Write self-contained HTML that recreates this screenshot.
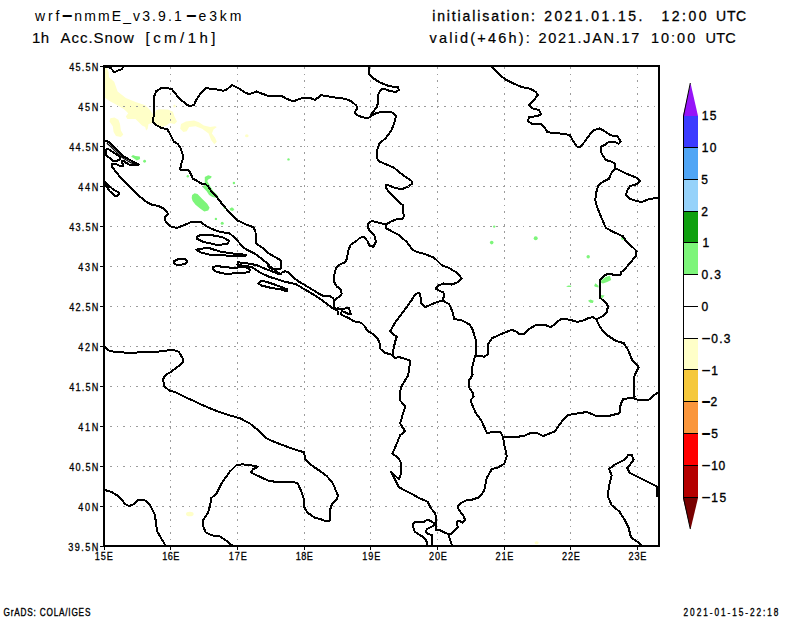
<!DOCTYPE html><html><head><meta charset="utf-8"><style>html,body{margin:0;padding:0;background:#fff;width:800px;height:618px;overflow:hidden}svg{display:block}text{font-family:"Liberation Sans",sans-serif;fill:#000}</style></head><body>
<svg width="800" height="618" viewBox="0 0 800 618">
<polygon points="104.0,67.0 106.2,67.0 107.5,69.8 108.6,72.0 109.0,77.2 114.2,81.8 117.6,91.4 125.8,97.9 135.5,102.0 145.2,105.2 150.1,110.0 153.4,115.0 156.6,110.0 159.9,109.2 168.0,109.6 172.9,111.7 174.5,116.6 177.0,121.4 174.5,123.9 169.6,123.1 166.4,125.5 161.5,127.1 156.6,126.3 152.6,123.1 148.5,123.9 147.7,128.8 146.1,130.4 145.2,127.1 142.0,125.5 138.8,122.2 135.5,119.0 127.4,119.0 125.8,116.6 128.2,113.3 124.1,109.2 116.0,104.4 109.5,101.1 105.4,97.9 104.0,97.0" fill="#FFFFC8"/>
<polygon points="110.3,118.2 114.4,117.4 118.4,119.8 120.0,123.9 120.9,130.4 123.3,134.4 120.9,136.9 116.0,136.0 113.6,132.0 112.8,126.3 109.5,121.4" fill="#FFFFC8"/>
<polygon points="181.0,123.9 185.9,121.4 194.0,120.6 198.9,122.2 203.8,125.5 210.2,127.1 215.1,126.3 216.8,127.1 213.5,129.6 211.9,133.6 215.1,137.7 216.8,141.8 214.3,144.2 211.1,140.1 208.6,133.6 202.1,128.8 195.6,126.3 189.1,127.1 186.7,131.2 183.4,132.0 180.2,128.8" fill="#FFFFC8"/>
<ellipse cx="174.5" cy="106" rx="1.2" ry="1.5" fill="#FFFFC8"/>
<ellipse cx="246.8" cy="135.7" rx="1.8" ry="1.5" fill="#FFFFC8"/>
<ellipse cx="189.8" cy="514" rx="3.8" ry="2.3" fill="#FFFFC8"/>
<ellipse cx="536.6" cy="542.7" rx="2" ry="1.5" fill="#FFFFC8"/>
<polygon points="192.1,195.1 194.6,193.2 197.5,194.1 202.3,199.0 207.2,203.8 209.6,207.7 208.2,210.6 204.3,211.4 200.4,208.7 195.5,204.8 192.6,200.9 191.7,198.0" fill="#7DF57A"/>
<polygon points="204.8,177.1 208.2,175.2 211.6,176.2 211.1,178.1 208.2,179.6 207.2,181.0 208.6,183.4 213.0,190.7 216.9,194.6 219.3,198.5 216.9,198.0 212.5,197.0 209.1,195.1 206.7,191.2 203.3,187.8 202.3,186.8 204.8,184.4 204.8,180.5" fill="#7DF57A"/>
<polygon points="229.5,208.7 232.0,207.2 234.4,209.2 232.9,211.1 230.5,210.6" fill="#7DF57A"/>
<polygon points="131.1,156.4 133.0,155.1 135.3,156.0 139.8,156.4 140.1,159.0 136.8,160.5 133.8,158.2" fill="#7DF57A"/>
<polygon points="601.1,280.6 605.5,277.1 609.9,275.7 611.2,280.1 607.2,281.9 602.9,283.6 601.1,282.7" fill="#7DF57A"/>
<polygon points="594.1,285.8 595.4,283.2 598.5,285.8 598.5,287.6 595.0,286.7" fill="#7DF57A"/>
<polygon points="566.1,286.2 568.7,285.4 571.4,285.8 570.9,287.1 567.9,287.1" fill="#7DF57A"/>
<polygon points="588.0,300.7 590.6,299.4 593.7,300.7 592.8,302.9 590.2,302.7" fill="#7DF57A"/>
<polygon points="601.1,295.0 604.6,295.4 602.9,297.6 601.1,300.7" fill="#7DF57A"/>
<circle cx="144.6" cy="161.25" r="1.4" fill="#7DF57A"/>
<circle cx="187.8" cy="176.2" r="1.2" fill="#7DF57A"/>
<circle cx="233.9" cy="183" r="1.2" fill="#7DF57A"/>
<circle cx="215.9" cy="218.9" r="1.2" fill="#7DF57A"/>
<circle cx="222.2" cy="223.3" r="1.5" fill="#7DF57A"/>
<circle cx="224.7" cy="207.7" r="1.2" fill="#7DF57A"/>
<circle cx="288.5" cy="159.4" r="1.2" fill="#7DF57A"/>
<circle cx="494.2" cy="226.6" r="1.2" fill="#7DF57A"/>
<circle cx="491.7" cy="242.6" r="1.8" fill="#7DF57A"/>
<circle cx="535.7" cy="238.3" r="2" fill="#7DF57A"/>
<circle cx="588.2" cy="256.8" r="1.7" fill="#7DF57A"/>
<circle cx="622.8" cy="238.3" r="1.7" fill="#7DF57A"/>
<path d="M170.5,67V545M237.5,67V545M304.5,67V545M370.5,67V545M437.5,67V545M504.5,67V545M570.5,67V545M637.5,67V545M103.45,106.5H658M103.45,146.5H658M103.45,186.5H658M103.45,226.5H658M103.45,266.5H658M103.45,306.5H658M103.45,346.5H658M103.45,386.5H658M103.45,426.5H658M103.45,466.5H658M103.45,506.5H658" stroke="#9C9C9C" stroke-width="1" stroke-dasharray="1.8 4.75" fill="none" shape-rendering="crispEdges"/>
<g fill="none" stroke="#000" stroke-width="2" stroke-linejoin="round" stroke-linecap="round" shape-rendering="crispEdges">
<polyline points="104.0,67.1 108.2,67.1 110.9,68.2 114.6,72.4 118.0,70.5 121.4,69.4 122.9,67.5 123.3,66.0"/>
<polyline points="267.8,263.4 268.4,266.5 272.1,269.2 276.3,269.2 280.5,268.6 281.5,266.5 280.5,260.2 275.2,257.1 267.8,252.9 263.6,248.7 258.4,245.0 255.8,242.4 255.5,232.1 253.6,227.3 245.8,224.4 240.0,221.5 238.3,221.3 234.4,217.4 230.5,213.5 226.6,209.2 222.7,204.8 218.8,199.5 215.0,195.1 211.1,190.7 208.2,186.4 205.2,183.9 200.4,183.4 196.5,180.5 192.6,178.6 191.7,175.7 189.7,171.8 187.8,169.5 180.0,169.5 181.6,162.9 183.5,157.1 180.6,148.3 177.7,143.9 173.8,141.6 169.9,133.8 167.0,128.9 162.1,128.3 156.3,125.0 152.8,121.7 153.4,118.3 154.4,110.5 154.4,95.9 156.3,91.1 161.2,88.2 168.0,88.2 171.8,89.1 179.6,98.8 187.4,105.0 190.3,106.2 194.2,104.7 196.1,99.8 201.0,93.0 205.8,88.2 214.6,89.1 223.3,90.7 226.2,90.1 232.0,84.9 240.0,89.1 243.9,92.0 248.7,94.0 252.6,93.0 256.5,91.5 261.4,93.4 269.1,96.3 281.7,95.9 286.6,98.8 293.4,101.4 298.3,99.4 304.1,97.5 309.9,97.9 314.8,99.8 317.7,97.9 320.6,95.0 325.4,95.9 337.1,97.9 345.8,98.8 351.7,101.7 356.5,105.6 356.5,109.5 354.6,112.4 357.5,115.3 362.3,117.3 368.2,117.9 370.7,116.3"/>
<polyline points="369.7,66.0 368.7,73.6 373.6,78.4 379.4,82.3 389.1,86.2 397.9,87.2 398.8,90.1 395.9,92.0 390.1,91.1 385.2,89.1 381.4,89.1 378.4,94.0 377.5,98.8 378.4,101.7 376.5,107.6 372.6,112.4 370.7,116.3"/>
<polyline points="370.7,116.3 375.5,113.4 382.3,111.5 392.0,112.4 395.9,116.3 394.0,124.1 391.1,130.9 385.2,138.6 379.4,143.5 377.5,149.3 376.5,156.1 378.4,161.0 385.2,163.9 394.0,167.8 402.7,174.9 411.5,180.7 412.4,183.6 408.5,186.5 402.7,188.8 395.9,188.4 389.1,185.5 386.2,184.6 386.2,188.4 391.1,194.3 397.9,201.1 402.7,205.0 403.7,216.6 401.7,219.5 397.9,218.9 391.1,221.5 386.2,224.4"/>
<polyline points="386.2,224.4 381.4,223.4 371.7,220.9 367.5,224.0 368.7,229.5 374.3,235.0 375.9,241.5 373.6,246.7 369.5,246.0 367.5,241.0 364.0,237.2 360.0,237.6 356.5,240.9 350.7,244.8 347.8,251.6 347.3,258.3 345.0,262.4 339.5,264.6 336.0,268.2 334.4,274.7 333.9,281.3 336.6,286.4 340.9,289.3 341.7,293.7 339.5,296.6 335.9,298.8 334.4,300.2"/>
<polyline points="386.2,224.4 386.2,228.3 398.8,235.0 406.6,241.8 412.4,249.6 416.3,251.6 424.1,253.9 433.8,257.4 441.6,265.1 449.3,268.1 457.1,272.9 461.9,278.7 457.1,282.6 451.3,284.6 443.5,283.5 437.7,285.8 435.7,288.7 439.6,290.7 443.5,292.6 443.5,297.5 442.5,300.4"/>
<polyline points="442.5,300.4 433.8,303.3 425.0,307.2 421.2,303.3 420.2,294.6 418.3,292.6 414.4,295.5 411.5,300.4 406.6,307.2 400.8,315.0 395.0,322.7 390.1,331.5 393.0,334.4 396.9,336.3 395.0,342.1 393.4,349.9 393.0,355.7"/>
<polyline points="442.5,300.4 449.3,304.3 452.2,311.1 454.2,318.8 462.9,320.8 469.7,324.7 472.6,329.5 475.5,339.2 476.5,348.0 475.5,354.8 473.6,361.6 471.7,369.3 472.6,375.1 468.7,381.0 468.7,386.8 472.6,392.6 473.6,396.5 470.5,400.4 475.2,412.0 481.6,421.1 486.8,432.7 500.3,431.9 502.9,436.6"/>
<polyline points="502.9,436.6 513.3,437.1 523.6,436.1 531.4,432.7 537.9,433.5 543.0,436.1 554.7,431.4 561.2,422.3 567.6,415.1 578.0,413.3 587.0,412.0 596.1,415.9 609.0,415.9 619.4,413.3 620.7,404.2 623.2,399.1 632.3,397.8 637.5,399.8 649.1,399.6 655.6,393.9 658.2,392.6"/>
<polyline points="502.9,436.6 504.2,444.3 506.8,456.0 504.2,463.7 497.8,467.6 492.0,468.9 486.8,478.0 484.2,490.9 479.0,497.4 470.0,500.3 466.4,500.3 461.9,502.6 458.4,505.2 457.9,507.5 459.3,510.6 461.9,513.7 463.7,516.4 465.1,519.9 462.8,522.6 459.3,520.8 457.5,521.2 457.0,524.4 457.9,527.5 454.8,530.6 451.3,534.1 448.6,534.1"/>
<polyline points="476.0,355.5 484.3,356.7 488.2,353.8 488.2,344.1 492.0,338.3 498.5,335.2 511.2,329.9 515.5,331.0 519.7,334.2 524.0,334.2 529.3,328.9 535.7,325.0 545.2,325.0 550.6,327.2 553.7,325.0 561.2,318.7 569.7,319.7 577.1,321.9 583.5,320.4 588.8,317.8 593.1,317.2 596.2,319.3"/>
<polyline points="615.4,168.3 612.2,171.4 609.0,178.8 602.6,182.0 598.4,185.2 596.2,192.6 595.2,200.1 597.3,207.5 601.6,218.1 605.8,227.7 613.2,231.9 622.8,236.2 627.1,242.6 633.4,247.9 636.6,251.1 635.6,256.4 630.2,262.7 623.9,270.2 621.2,272.2 620.4,274.9 612.5,274.9 611.6,273.6 609.0,273.6 605.5,274.9 602.9,277.1 599.8,280.1 599.8,297.6 602.9,300.2 607.2,304.6 607.9,306.6 606.9,311.9 602.6,316.1 596.2,319.3"/>
<polyline points="596.2,319.3 600.5,327.8 605.8,334.2 615.4,340.6 623.9,343.3 628.1,350.1 632.4,360.7 635.6,363.9 638.7,367.1 636.6,371.4 634.5,375.6 634.1,386.2 634.5,395.8 634.9,396.5 632.3,397.8"/>
<polyline points="491.0,66.0 498.5,73.8 504.9,79.1 513.4,83.4 521.9,87.2 530.4,88.7 535.7,91.9 537.8,95.1 533.6,100.4 529.3,105.0 532.5,108.4 538.9,109.9 541.0,114.2 536.7,116.3 529.3,117.0 527.8,120.6 531.4,123.7 541.0,124.2 544.2,126.9 547.4,132.2 558.0,133.3 569.7,134.8 572.9,140.7 577.1,146.7 580.3,147.1 584.6,141.8 589.9,134.4 594.1,130.1 599.4,128.4 604.7,131.2 611.1,135.4 617.5,136.1 620.7,141.8 618.6,143.9 614.3,141.8 609.0,141.8 604.7,145.0 600.5,147.1 601.6,153.5 605.8,159.9 612.2,162.0 615.4,164.1 615.4,168.3"/>
<polyline points="615.4,168.3 626.0,173.6 636.6,177.7 639.8,180.9 636.6,184.1 630.2,186.2 627.1,190.5 626.0,194.7 630.2,199.0 638.7,201.5 643.0,201.5 649.4,199.0 658.0,197.9"/>
<polyline points="657.2,487.0 657.2,496.0"/>
<polyline points="658.0,487.0 650.4,483.1 640.1,478.0 629.7,472.8 627.1,467.6 629.7,465.0 633.6,459.9 631.8,454.7 628.4,454.7 624.5,459.9 614.2,465.0 609.0,468.9 611.6,475.4 609.0,485.7 607.7,496.1 611.6,505.1 619.4,511.6 624.5,519.4 628.4,527.1 631.0,537.5 638.8,542.7 641.4,545.5"/>
<polyline points="104.0,140.1 107.2,141.2 109.1,142.3 111.0,144.3 114.3,147.6 117.6,150.9 120.9,154.2 124.2,156.9 127.5,158.6 130.8,160.5 134.1,162.4 137.4,163.8 138.5,164.6 138.0,165.4 130.8,165.4 126.4,163.0 123.7,160.8 122.3,160.8 121.7,162.4 123.1,164.6 123.1,166.3 119.8,166.0 117.6,164.6 114.3,163.8 112.1,164.1 111.6,166.0 112.7,167.6 114.3,169.6 116.0,171.9 118.4,174.9 120.9,178.3 124.3,181.7 129.6,187.0 135.9,193.3 146.6,202.0 151.5,204.6 158.3,205.9 164.1,208.8 168.0,213.7 165.0,216.6 165.0,220.5 169.9,226.3 176.7,227.9 183.5,225.3 191.3,222.0 201.0,222.0 204.9,225.3 212.6,229.2 220.4,232.1 229.1,233.1 234.0,237.0 240.0,243.6 241.6,246.0 245.8,249.2 255.2,253.9 261.5,258.7 266.8,262.9 270.0,266.5 274.2,269.7 278.4,272.9 280.5,274.4 281.5,272.9 284.7,271.3 287.8,271.8 293.1,277.1 298.3,281.3 303.6,284.4 311.8,289.3 319.1,293.7 323.5,295.9 329.3,295.9 332.9,298.0 334.4,300.2 333.7,302.4 334.4,307.5 336.6,309.7 338.0,311.9 338.0,314.0"/>
<polyline points="237.9,262.3 245.8,263.2 256.3,265.0 264.7,268.6 272.0,271.3 278.4,273.9"/>
<polyline points="237.9,262.3 237.4,264.4 238.4,265.0 248.9,266.5 251.0,266.5 254.2,268.6 261.5,273.4 270.0,277.1 277.3,279.2 284.7,281.8 290.0,282.8 295.8,284.2 304.6,289.3 313.3,294.4 322.0,300.2 328.6,305.3 333.7,309.0 336.6,310.4 338.0,308.2 339.5,309.0 349.0,308.2 349.7,311.1 351.1,314.0 348.2,314.0 344.6,311.9 341.7,311.1 341.0,314.0 343.9,316.2 348.2,317.7 354.0,321.3 361.3,322.8 364.2,325.7 367.5,330.8 374.0,334.8 377.8,339.0 379.4,342.1 380.4,348.9 385.2,352.8 392.0,354.8 395.0,357.7 399.8,357.3 409.5,360.2 409.5,366.4 408.2,375.1 404.7,381.0 401.7,385.8 399.8,392.6 400.1,400.4 405.3,406.8 402.7,414.6 400.1,423.6 405.3,431.4 400.1,435.3 397.5,441.8 394.9,448.2 392.3,453.4 398.8,458.6 401.4,463.8 401.4,472.8 398.8,479.3 393.6,474.1 391.1,471.5 394.9,479.3 398.8,487.0 406.6,491.4 413.9,495.0 420.1,498.6 427.7,501.7 429.0,504.8 431.7,509.2 434.8,512.8 435.7,515.5 435.7,521.7 435.7,530.1 439.7,530.1 444.1,532.4 448.6,534.1 449.5,537.7 451.3,543.0 452.2,546.0"/>
<polyline points="427.2,546.0 427.2,543.5 425.9,539.5 422.8,536.8 418.3,534.1 414.8,531.5 413.5,527.9 413.0,524.4 415.7,521.7 421.9,521.7 424.1,521.7 427.2,519.9 430.8,520.8 434.4,523.5 433.5,525.7 429.9,527.5 426.8,529.3 425.9,531.5 427.2,533.7 431.7,535.0 432.1,539.5 432.1,546.0"/>
<polyline points="104.0,346.3 109.7,351.2 119.4,352.1 131.1,353.1 144.7,351.7 151.5,352.5 164.1,350.8 172.8,349.8 178.6,351.7 182.5,358.0 182.5,362.8 177.7,366.7 169.9,372.5 165.0,375.4 163.1,379.3 164.1,386.1 169.9,391.0 174.8,391.9 183.5,396.4 193.2,400.7 201.9,404.9 216.5,410.9 228.6,415.0 239.7,418.2 249.4,423.1 256.7,429.1 265.2,437.6 273.7,441.7 283.4,445.4 295.5,449.7 304.0,452.2 305.2,459.5 310.1,464.3 319.8,470.9 327.1,476.4 333.1,483.7 338.0,495.9 336.8,499.5 331.9,504.3 329.5,511.6 329.5,521.3 325.9,521.3 319.8,518.9 314.9,517.7 307.7,512.8 304.0,506.8 304.0,499.5 301.6,492.2 297.9,483.7 293.1,481.8 278.5,481.8 270.0,481.3 261.5,477.6 251.8,472.8 250.6,472.3 253.1,469.2 257.9,466.7 249.4,465.0 242.1,464.3 236.1,465.5 229.8,471.6 223.8,480.1 220.1,486.1 216.5,493.4 211.1,498.3 210.4,504.3 208.0,512.8 203.1,520.1 203.1,526.2 205.6,532.2 211.6,535.4 218.9,535.9 226.2,540.7 232.2,545.5"/>
<polyline points="104.0,489.8 110.9,491.7 118.2,495.9 125.5,504.3 129.1,506.0 132.8,504.8 138.8,499.5 143.7,499.5 149.7,504.3 154.6,514.0 155.8,521.3 157.0,531.0 161.9,539.5 165.5,545.5"/>
<polygon points="106.0,149.8 107.7,148.7 111.0,150.9 114.3,153.1 117.6,155.3 119.8,156.9 120.6,158.0 119.8,159.7 116.5,160.8 113.8,161.3 111.6,159.7 108.3,156.9 106.0,154.7 105.5,152.5"/>
<polygon points="104.5,181.0 109.2,186.0 112.6,188.9 115.5,190.9 118.0,192.1 119.4,193.8 118.4,195.2 116.0,196.0 115.0,195.7 112.1,193.1 109.7,191.4 108.3,189.4 107.5,187.5 106.3,186.0 104.5,184.6"/>
<polygon points="197.1,237.0 200.0,235.0 208.7,234.7 222.3,237.0 229.1,240.9 227.2,244.2 216.5,244.8 202.9,241.8 197.1,238.9"/>
<polygon points="196.1,249.6 207.8,247.7 220.4,251.6 235.9,254.0 245.8,254.7 245.2,256.4 230.0,256.3 226.2,255.5 212.6,255.4 201.0,252.5"/>
<polygon points="173.8,261.3 177.7,259.3 185.4,259.3 187.4,261.3 184.5,264.2 177.7,265.1 174.8,264.2"/>
<polygon points="212.6,267.1 216.5,266.1 226.2,267.1 233.2,268.1 240.5,267.1 247.9,267.6 250.0,269.7 248.9,272.3 240.5,272.9 233.2,273.4 226.2,273.9 216.5,271.9 213.6,270.0"/>
<polygon points="258.4,283.4 260.5,281.3 264.7,281.3 274.2,284.4 282.6,287.6 287.3,289.2 286.8,291.3 280.5,289.2 272.0,288.1 261.5,285.5"/>
</g>
<g fill="none" stroke="#000" stroke-width="1.3" stroke-linejoin="round" stroke-linecap="round">
<polyline points="107.2,143.6 111.0,146.8 114.3,150.1 117.6,153.4 120.9,156.4 124.2,158.8 127.5,160.8 130.8,162.6 135.2,164.3"/>
</g>
<rect x="104" y="66" width="555" height="480" fill="none" stroke="#000" stroke-width="2" shape-rendering="crispEdges"/>
<path d="M104.5,547V550M170.5,547V550M237.5,547V550M304.5,547V550M370.5,547V550M437.5,547V550M504.5,547V550M570.5,547V550M637.5,547V550M100,66.5H103M100,106.5H103M100,146.5H103M100,186.5H103M100,226.5H103M100,266.5H103M100,306.5H103M100,346.5H103M100,386.5H103M100,426.5H103M100,466.5H103M100,506.5H103M100,546.5H103" stroke="#000" stroke-width="1" fill="none" shape-rendering="crispEdges"/>
<polygon points="683,116 690.5,83 698,116" fill="#9614F8"/>
<rect x="683" y="116" width="15" height="31" fill="#3C3CFF" shape-rendering="crispEdges"/>
<rect x="683" y="147" width="15" height="32" fill="#50A5F5" shape-rendering="crispEdges"/>
<rect x="683" y="179" width="15" height="32" fill="#96D2FA" shape-rendering="crispEdges"/>
<rect x="683" y="211" width="15" height="31" fill="#0FA00F" shape-rendering="crispEdges"/>
<rect x="683" y="242" width="15" height="32" fill="#7DF57A" shape-rendering="crispEdges"/>
<rect x="683" y="338" width="15" height="31" fill="#FFFFC8" shape-rendering="crispEdges"/>
<rect x="683" y="369" width="15" height="32" fill="#F5C83C" shape-rendering="crispEdges"/>
<rect x="683" y="401" width="15" height="32" fill="#FA963C" shape-rendering="crispEdges"/>
<rect x="683" y="433" width="15" height="32" fill="#FF0000" shape-rendering="crispEdges"/>
<rect x="683" y="465" width="15" height="32" fill="#B40000" shape-rendering="crispEdges"/>
<polygon points="683,498 690.5,529.5 698,498" fill="#780000"/>
<path d="M683.5,116L690.3,83M683.5,498L690.3,529" stroke="#000" stroke-width="1" fill="none"/>
<path d="M683.5,116V498M683,147.5H698M683,179.5H698M683,211.5H698M683,242.5H698M683,274.5H698M683,306.5H698M683,338.5H698M683,369.5H698M683,401.5H698M683,433.5H698M683,465.5H698M683,497.5H698" stroke="#000" stroke-width="1" fill="none" shape-rendering="crispEdges"/>
<text xml:space="preserve"><tspan x="35.02" y="21" font-size="14" textLength="24.26" lengthAdjust="spacing">wrf</tspan><tspan x="61.14" y="22.80" font-size="25.60" textLength="12.41" lengthAdjust="spacingAndGlyphs">-</tspan><tspan x="74.27" y="21" font-size="14" textLength="107.41" lengthAdjust="spacing">nmmE_v3.9.1</tspan><tspan x="185.36" y="22.80" font-size="25.60" textLength="12.28" lengthAdjust="spacingAndGlyphs">-</tspan><tspan x="198.41" y="21" font-size="14" textLength="43.02" lengthAdjust="spacing">e3km</tspan></text>
<text xml:space="preserve"><tspan x="32.06" y="43" font-size="15" stroke="#000" stroke-width="0.15" textLength="17.12" lengthAdjust="spacing">1h</tspan> <tspan x="60.57" y="43" font-size="15" stroke="#000" stroke-width="0.15" textLength="73.39" lengthAdjust="spacing">Acc.Snow</tspan> <tspan x="145.53" y="43" font-size="15" stroke="#000" stroke-width="0.15" textLength="69.94" lengthAdjust="spacing">[cm/1h]</tspan></text>
<text xml:space="preserve"><tspan x="432.21" y="21" font-size="14" stroke="#000" stroke-width="0.3" textLength="102.56" lengthAdjust="spacing">initialisation:</tspan> <tspan x="544.20" y="21" font-size="14" stroke="#000" stroke-width="0.3" textLength="98.18" lengthAdjust="spacing">2021.01.15.</tspan>  <tspan x="661.43" y="21" font-size="14" stroke="#000" stroke-width="0.3" textLength="45.11" lengthAdjust="spacing">12:00</tspan> <tspan x="716.12" y="21" font-size="14" stroke="#000" stroke-width="0.3" textLength="30.11" lengthAdjust="spacing">UTC</tspan></text>
<text xml:space="preserve"><tspan x="429.45" y="43" font-size="14.5" stroke="#000" stroke-width="0.2" textLength="100.37" lengthAdjust="spacing">valid(+46h):</tspan> <tspan x="538.52" y="43" font-size="14.5" stroke="#000" stroke-width="0.2" textLength="100.71" lengthAdjust="spacing">2021.JAN.17</tspan> <tspan x="650.90" y="43" font-size="14.5" stroke="#000" stroke-width="0.2" textLength="44.37" lengthAdjust="spacing">10:00</tspan> <tspan x="705.58" y="43" font-size="14.5" stroke="#000" stroke-width="0.2" textLength="30.17" lengthAdjust="spacing">UTC</tspan></text>
<text xml:space="preserve" transform="scale(0.8,1)"><tspan x="118.51" y="560" font-size="11.4" stroke="#000" stroke-width="0.3" textLength="22.61" lengthAdjust="spacing">15E</tspan></text>
<text xml:space="preserve" transform="scale(0.8,1)"><tspan x="202.88" y="560" font-size="11.4" stroke="#000" stroke-width="0.3" textLength="21.36" lengthAdjust="spacing">16E</tspan></text>
<text xml:space="preserve" transform="scale(0.8,1)"><tspan x="286.01" y="560" font-size="11.4" stroke="#000" stroke-width="0.3" textLength="22.61" lengthAdjust="spacing">17E</tspan></text>
<text xml:space="preserve" transform="scale(0.8,1)"><tspan x="369.76" y="560" font-size="11.4" stroke="#000" stroke-width="0.3" textLength="21.36" lengthAdjust="spacing">18E</tspan></text>
<text xml:space="preserve" transform="scale(0.8,1)"><tspan x="452.88" y="560" font-size="11.4" stroke="#000" stroke-width="0.3" textLength="22.61" lengthAdjust="spacing">19E</tspan></text>
<text xml:space="preserve" transform="scale(0.8,1)"><tspan x="536.30" y="560" font-size="11.4" stroke="#000" stroke-width="0.3" textLength="22.31" lengthAdjust="spacing">20E</tspan></text>
<text xml:space="preserve" transform="scale(0.8,1)"><tspan x="619.43" y="560" font-size="11.4" stroke="#000" stroke-width="0.3" textLength="22.31" lengthAdjust="spacing">21E</tspan></text>
<text xml:space="preserve" transform="scale(0.8,1)"><tspan x="702.55" y="560" font-size="11.4" stroke="#000" stroke-width="0.3" textLength="22.31" lengthAdjust="spacing">22E</tspan></text>
<text xml:space="preserve" transform="scale(0.8,1)"><tspan x="785.68" y="560" font-size="11.4" stroke="#000" stroke-width="0.3" textLength="22.31" lengthAdjust="spacing">23E</tspan></text>
<text xml:space="preserve" transform="scale(0.8,1)"><tspan x="86.61" y="70.6" font-size="11.4" stroke="#000" stroke-width="0.3" textLength="36.19" lengthAdjust="spacing">45.5N</tspan></text>
<text xml:space="preserve" transform="scale(0.8,1)"><tspan x="97.86" y="110.6" font-size="11.4" stroke="#000" stroke-width="0.3" textLength="24.94" lengthAdjust="spacing">45N</tspan></text>
<text xml:space="preserve" transform="scale(0.8,1)"><tspan x="86.61" y="150.6" font-size="11.4" stroke="#000" stroke-width="0.3" textLength="36.19" lengthAdjust="spacing">44.5N</tspan></text>
<text xml:space="preserve" transform="scale(0.8,1)"><tspan x="97.86" y="190.6" font-size="11.4" stroke="#000" stroke-width="0.3" textLength="24.94" lengthAdjust="spacing">44N</tspan></text>
<text xml:space="preserve" transform="scale(0.8,1)"><tspan x="86.61" y="230.6" font-size="11.4" stroke="#000" stroke-width="0.3" textLength="36.19" lengthAdjust="spacing">43.5N</tspan></text>
<text xml:space="preserve" transform="scale(0.8,1)"><tspan x="97.86" y="270.6" font-size="11.4" stroke="#000" stroke-width="0.3" textLength="24.94" lengthAdjust="spacing">43N</tspan></text>
<text xml:space="preserve" transform="scale(0.8,1)"><tspan x="86.61" y="310.6" font-size="11.4" stroke="#000" stroke-width="0.3" textLength="36.19" lengthAdjust="spacing">42.5N</tspan></text>
<text xml:space="preserve" transform="scale(0.8,1)"><tspan x="97.86" y="350.6" font-size="11.4" stroke="#000" stroke-width="0.3" textLength="24.94" lengthAdjust="spacing">42N</tspan></text>
<text xml:space="preserve" transform="scale(0.8,1)"><tspan x="86.61" y="390.6" font-size="11.4" stroke="#000" stroke-width="0.3" textLength="36.19" lengthAdjust="spacing">41.5N</tspan></text>
<text xml:space="preserve" transform="scale(0.8,1)"><tspan x="97.86" y="430.6" font-size="11.4" stroke="#000" stroke-width="0.3" textLength="24.94" lengthAdjust="spacing">41N</tspan></text>
<text xml:space="preserve" transform="scale(0.8,1)"><tspan x="86.61" y="470.6" font-size="11.4" stroke="#000" stroke-width="0.3" textLength="36.19" lengthAdjust="spacing">40.5N</tspan></text>
<text xml:space="preserve" transform="scale(0.8,1)"><tspan x="97.86" y="510.6" font-size="11.4" stroke="#000" stroke-width="0.3" textLength="24.94" lengthAdjust="spacing">40N</tspan></text>
<text xml:space="preserve" transform="scale(0.8,1)"><tspan x="85.19" y="550.6" font-size="11.4" stroke="#000" stroke-width="0.3" textLength="37.61" lengthAdjust="spacing">39.5N</tspan></text>
<text xml:space="preserve"><tspan x="701.79" y="119.8" font-size="12" stroke="#000" stroke-width="0.35" textLength="14.72" lengthAdjust="spacing">15</tspan></text>
<text xml:space="preserve"><tspan x="701.79" y="151.8" font-size="12" stroke="#000" stroke-width="0.35" textLength="14.68" lengthAdjust="spacing">10</tspan></text>
<text xml:space="preserve"><tspan x="701.32" y="183.6" font-size="12" stroke="#000" stroke-width="0.35">5</tspan></text>
<text xml:space="preserve"><tspan x="701.20" y="215.6" font-size="12" stroke="#000" stroke-width="0.35">2</tspan></text>
<text xml:space="preserve"><tspan x="702.49" y="246.8" font-size="12" stroke="#000" stroke-width="0.35">1</tspan></text>
<text xml:space="preserve"><tspan x="701.53" y="279.1" font-size="12" stroke="#000" stroke-width="0.35" textLength="19.40" lengthAdjust="spacing">0.3</tspan></text>
<text xml:space="preserve"><tspan x="701.53" y="310.5" font-size="12" stroke="#000" stroke-width="0.35">0</tspan></text>
<text xml:space="preserve"><tspan x="700.68" y="343.76" font-size="17.92" textLength="10.64" lengthAdjust="spacingAndGlyphs">-</tspan><tspan x="711.33" y="342.8" font-size="12" stroke="#000" stroke-width="0.35" textLength="19.20" lengthAdjust="spacing">0.3</tspan></text>
<text xml:space="preserve"><tspan x="700.68" y="376.06" font-size="17.92" textLength="10.64" lengthAdjust="spacingAndGlyphs">-</tspan><tspan x="711.29" y="375.1" font-size="12" stroke="#000" stroke-width="0.35">1</tspan></text>
<text xml:space="preserve"><tspan x="700.68" y="408.90" font-size="25.60" textLength="10.64" lengthAdjust="spacingAndGlyphs">-</tspan><tspan x="710.40" y="405.9" font-size="12" stroke="#000" stroke-width="0.35">2</tspan></text>
<text xml:space="preserve"><tspan x="700.68" y="441.00" font-size="25.60" textLength="10.64" lengthAdjust="spacingAndGlyphs">-</tspan><tspan x="711.32" y="438.0" font-size="12" stroke="#000" stroke-width="0.35">5</tspan></text>
<text xml:space="preserve"><tspan x="700.68" y="471.10" font-size="19.20" textLength="10.64" lengthAdjust="spacingAndGlyphs">-</tspan><tspan x="711.29" y="469.8" font-size="12" stroke="#000" stroke-width="0.35" textLength="13.78" lengthAdjust="spacing">10</tspan></text>
<text xml:space="preserve"><tspan x="700.68" y="502.80" font-size="19.20" textLength="10.64" lengthAdjust="spacingAndGlyphs">-</tspan><tspan x="711.29" y="501.5" font-size="12" stroke="#000" stroke-width="0.35" textLength="14.82" lengthAdjust="spacing">15</tspan></text>
<text xml:space="preserve" transform="scale(0.8,1)"><tspan x="4.48" y="615.7" font-size="10.3" stroke="#000" stroke-width="0.35" textLength="108.49" lengthAdjust="spacing">GrADS: COLA/IGES</tspan></text>
<text xml:space="preserve" transform="scale(0.8,1)"><tspan x="854.48" y="615.8" font-size="10.3" stroke="#000" stroke-width="0.35" textLength="118.47" lengthAdjust="spacing">2021-01-15-22:18</tspan></text>
</svg></body></html>
